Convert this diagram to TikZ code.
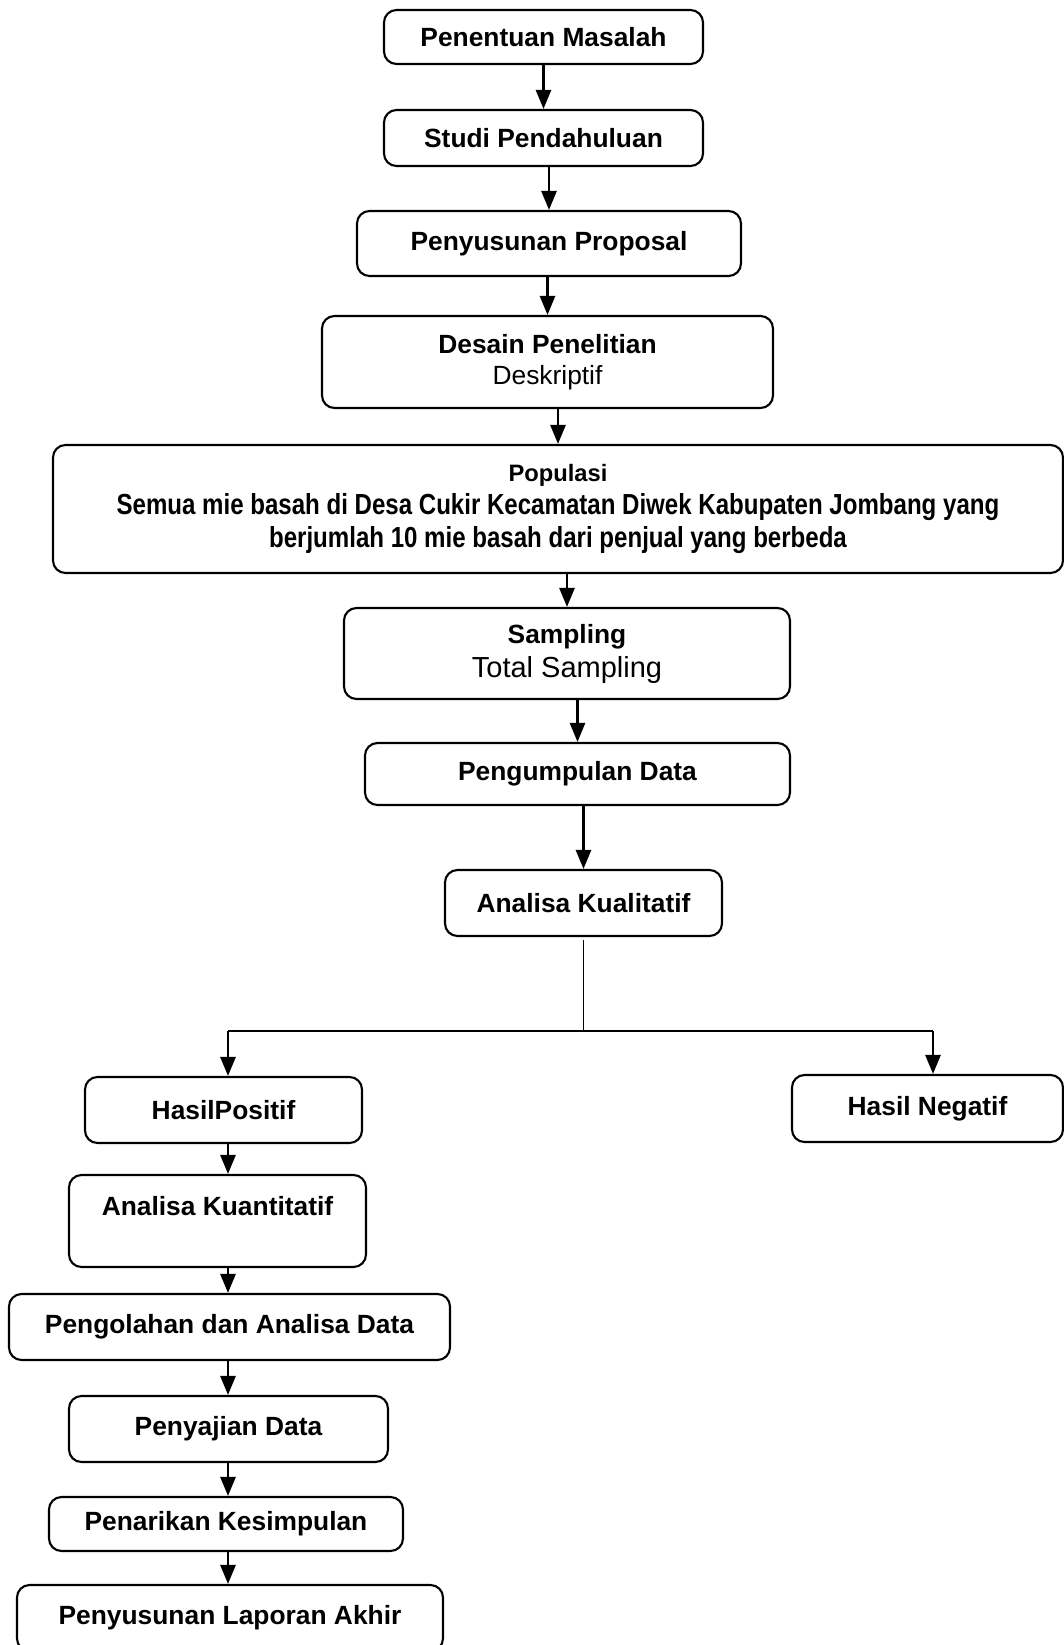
\documentclass[tikz,border=0pt]{standalone}
\usepackage{fontspec}
\setmainfont{Liberation Sans}
\newfontfamily\sempit{Liberation Sans}[FakeStretch=0.83]
\usepackage{tikz}
\usetikzlibrary{arrows.meta, positioning}
\newcommand{\hurufbesar}{\fontsize{15}{17.6}\selectfont\bfseries}
\tikzstyle{kotak}  = [draw, line width=1.2pt, rounded corners=0.25cm, inner sep=2pt, align=center, font=\hurufbesar]
\tikzstyle{garis}  = [line width=1.2pt]
\tikzstyle{panah}  = [line width=1.5pt, -{Triangle[length=0.38cm, width=0.3cm]}]

\begin{document}
\begin{tikzpicture}[
        x=1cm,
        y=1cm
    ]
        \useasboundingbox (0,0) rectangle (21.28,-32.9);

        % Tahap persiapan
        \node[kotak, minimum width=6.38cm, minimum height=1.08cm] (pm) at (10.87,-0.74)
            {Penentuan Masalah};
        \node[kotak, minimum width=6.38cm, minimum height=1.12cm] (sp) at (10.87,-2.76)
            {Studi Pendahuluan};
        \node[kotak, minimum width=7.68cm, minimum height=1.30cm] (pr) at (10.98,-4.87)
            {Penyusunan Proposal};
        \node[kotak, minimum width=9.02cm, minimum height=1.84cm] (ds) at (10.95,-7.24)
            {Desain Penelitian\\
            {\mdseries Deskriptif}};

        % Populasi dan sampel
        \node[kotak, minimum width=20.2cm, minimum height=2.56cm,
              font=\fontsize{16.5}{19}\selectfont\sempit\bfseries] (pp) at (11.16,-10.18)
            {{\rmfamily\fontsize{13.5}{19}\selectfont\bfseries Populasi}\\
            Semua mie basah di Desa Cukir Kecamatan Diwek Kabupaten Jombang yang\\
            berjumlah 10 mie basah dari penjual yang berbeda};
        \node[kotak, minimum width=8.92cm, minimum height=1.82cm,
              font=\fontsize{16.5}{19.4}\selectfont] (sm) at (11.34,-13.07)
            {{\fontsize{15}{19.4}\selectfont\bfseries Sampling}\\
            Total Sampling};
        \node[kotak, minimum width=8.50cm, minimum height=1.24cm] (pd) at (11.55,-15.48)
            {Pengumpulan Data};
        \node[kotak, minimum width=5.54cm, minimum height=1.32cm] (ak) at (11.67,-18.06)
            {Analisa Kualitatif};

        % Hasil
        \node[kotak, minimum width=5.54cm, minimum height=1.32cm] (hp) at (4.47,-22.20)
            {HasilPositif};
        \node[kotak, minimum width=5.42cm, minimum height=1.34cm] (hn) at (18.55,-22.17)
            {Hasil Negatif};

        % Tahap akhir
        \node[kotak, minimum width=5.94cm, minimum height=1.84cm] (kn) at (4.35,-24.42)
            {Analisa Kuantitatif\\\mbox{}};
        \node[kotak, minimum width=8.82cm, minimum height=1.32cm] (pa) at (4.59,-26.54)
            {Pengolahan dan Analisa Data};
        \node[kotak, minimum width=6.38cm, minimum height=1.32cm] (ps) at (4.57,-28.58)
            {Penyajian Data};
        \node[kotak, minimum width=7.08cm, minimum height=1.08cm] (pk) at (4.52,-30.48)
            {Penarikan Kesimpulan};
        \node[kotak, minimum width=8.52cm, minimum height=1.32cm] (pl) at (4.60,-32.36)
            {Penyusunan Laporan Akhir};

        % Alur utama
        \foreach \a/\b in {pm/sp, sp/pr, pr/ds, ds/pp, pp/sm, sm/pd, pd/ak} {
            \draw[panah] (\b.north |- \a.south) -- (\b.north);
        }

        % Percabangan hasil
        \coordinate (kiri) at (4.56,-20.62);
        \coordinate (kanan) at (18.66,-20.62);
        \draw[line width=0.7pt] ([yshift=-0.06cm]ak.south) -- (ak.south |- kiri);
        \draw[garis] (kiri) -- (kanan);
        \draw[panah] (kiri) -- (kiri |- hp.north);
        \draw[panah] (kanan) -- (kanan |- hn.north);

        % Alur hasil positif
        \foreach \a/\b in {hp/kn, kn/pa, pa/ps, ps/pk, pk/pl} {
            \draw[panah] (kiri |- \a.south) -- (kiri |- \b.north);
        }

    \end{tikzpicture}
\end{document}
